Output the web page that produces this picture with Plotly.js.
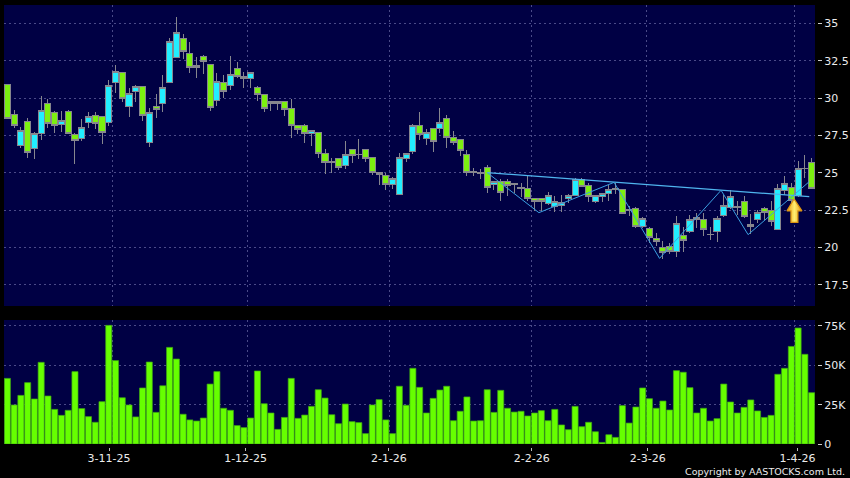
<!DOCTYPE html>
<html><head><meta charset="utf-8">
<script src="https://cdn.plot.ly/plotly-3.0.1.min.js"></script>
<style>html,body{margin:0;padding:0;background:#000}#c{width:850px;height:478px}
.boxes path{shape-rendering:crispEdges}</style>
</head><body><div id="c"></div>
<script>
const tickLabels=['3-11-25','1-12-25','2-1-26','2-2-26','2-3-26','1-4-26'];
const tickPos=[15.05,35.25,56.45,77.6,94.75,116.9];
const gridPos=[15.5,35.5,56.5,77.5,94.5,116.5];
const openP=[30.92,28.88,26.81,28.44,26.63,27.63,29.64,29.04,28.24,29.08,27.57,27.30,28.37,28.84,28.77,28.37,31.05,31.72,29.44,30.45,
30.78,27.03,29.44,29.64,31.05,32.72,34.00,32.99,32.05,32.79,32.25,29.84,31.05,30.85,31.99,31.45,31.29,30.71,30.25,29.64,
29.78,29.75,29.29,28.15,28.15,27.61,27.68,26.27,25.67,25.94,25.45,26.54,26.25,26.54,26.00,24.98,24.84,24.20,23.57,25.94,
26.45,28.15,27.32,27.95,27.95,28.62,27.34,27.21,26.21,25.07,25.00,25.33,24.20,24.38,24.38,24.29,24.04,23.97,23.30,23.30,
22.92,22.72,22.81,23.26,23.48,24.51,24.17,23.06,23.39,23.62,23.93,23.88,22.54,22.61,21.38,21.25,20.60,19.98,20.07,19.73,
20.78,21.07,22.01,21.88,20.89,21.05,22.12,22.68,22.75,23.08,21.50,21.85,22.61,22.46,21.21,23.82,24.00,23.44,25.31,25.69];
const highP=[30.92,29.20,28.04,28.66,27.70,30.11,29.93,29.13,29.15,29.17,27.63,28.59,29.08,29.04,28.82,31.21,32.21,31.72,30.67,30.87,
30.78,29.31,30.27,31.54,34.00,35.40,34.29,33.75,32.75,32.88,32.25,31.67,31.54,32.81,32.39,31.72,31.72,30.78,30.29,29.82,
29.82,29.75,29.91,28.15,28.28,27.81,27.68,26.56,26.00,25.94,27.10,26.54,27.23,26.54,26.00,24.98,25.00,24.73,26.34,26.27,
28.24,29.06,27.90,27.95,29.31,28.86,27.79,27.21,26.50,25.33,25.22,25.49,24.38,24.55,24.55,24.33,24.29,24.78,23.30,23.30,
23.71,23.44,23.50,23.57,24.67,24.67,24.29,23.50,23.66,24.17,24.33,23.88,22.77,22.68,22.01,21.38,20.98,20.45,20.31,22.10,
21.38,22.17,22.28,22.32,21.34,22.10,23.50,23.84,23.10,23.44,22.23,22.50,22.72,23.13,24.22,24.78,24.33,25.80,26.18,25.96];
const lowP=[28.64,28.01,26.65,26.00,25.92,27.21,28.01,27.66,27.75,27.57,25.60,27.14,28.01,27.92,26.94,28.15,30.33,29.75,28.75,29.75,
28.48,26.74,28.68,29.08,31.05,32.66,32.61,31.70,31.36,31.63,29.15,29.49,30.02,30.56,31.36,30.69,30.65,29.82,29.08,29.15,
29.20,28.79,27.30,27.57,26.96,26.79,25.98,24.89,25.00,25.18,25.22,25.63,25.89,25.71,24.84,24.15,23.84,23.88,23.57,25.71,
26.25,27.19,26.85,26.38,27.63,26.65,26.85,26.12,24.78,24.78,24.60,23.62,23.82,23.10,23.44,23.62,23.39,23.10,22.43,22.43,
22.86,22.37,22.39,22.95,23.44,24.02,23.06,23.00,23.06,23.13,23.57,22.28,22.12,21.27,21.27,20.27,20.11,19.24,19.55,19.38,
19.71,20.96,21.27,20.76,20.49,20.38,22.05,22.59,22.17,21.94,20.87,21.61,21.83,21.45,21.21,23.50,22.72,23.39,24.62,23.88];
const closeP=[28.64,28.15,27.83,26.36,27.63,29.17,28.30,28.17,28.48,27.61,27.14,28.04,28.77,28.30,27.68,30.85,31.79,29.98,30.29,30.78,
28.84,29.04,29.22,30.71,33.79,34.40,33.12,32.05,32.19,32.46,29.37,31.12,30.45,31.58,31.43,31.32,31.72,30.25,29.31,29.78,
29.64,29.20,28.15,27.86,27.61,27.81,26.27,25.67,25.78,25.38,26.21,26.14,26.21,25.94,25.00,24.89,24.20,24.62,26.00,26.27,
28.15,27.57,27.68,27.12,28.35,27.34,26.99,26.47,25.04,25.00,24.93,24.00,24.38,23.66,24.15,24.24,23.93,23.30,23.06,23.06,
23.50,23.10,22.99,23.46,24.51,24.06,23.39,23.44,23.62,23.88,23.86,22.28,22.48,21.38,21.94,20.67,20.38,19.64,19.73,21.61,
20.47,21.88,21.88,21.21,20.85,21.96,22.81,23.42,22.68,22.05,21.41,22.34,22.34,21.72,23.91,24.29,23.13,25.29,25.27,23.97];
const volumeK=[41.7,24.8,30.9,39,28.6,51.9,30.5,22,18.2,21.4,46,22.5,17.4,13.8,26.9,75.4,53,29.4,24.8,17.2,
35.6,52.1,20.1,37,61.4,54,18.9,15.3,14.6,16.5,38.1,46,22.7,21.4,11.7,10.4,16.5,46.4,25.6,19.7,
9.3,16.9,41.7,16.3,18.4,23.9,34.5,29.2,18.6,12.9,25.4,14.2,13.6,6.6,24.8,28.2,15.3,6.6,36.7,24.6,
48.1,36,19.7,29,34.3,36.7,14.8,20.8,29.9,14.6,14.8,34.5,20.1,34.1,22.7,20.3,20.8,17.8,19.7,21.2,
14.8,22,12.1,9.1,23.9,11,13.8,7.8,1,5.9,4.2,24.4,13.3,23.5,35.6,28.8,22.7,27.3,21.6,46.6,
45.6,35.8,19.7,22.7,14.6,16.1,38.1,26.7,19.7,23.3,28,21,16.9,18.2,44.3,48.1,62,73.7,57,32.6];
const idx=openP.map((_,i)=>i);
const necklineX=[71,118.65], necklineY=[25,23.39];
const zigzagX=[71,78.65,89.77,96.5,105.6,109.6,118.65], zigzagY=[25,22.32,24.35,19.26,23.82,20.85,24.4];
const arrowX=[116.4,117.57,116.97,116.97,115.94,115.94,115.35,116.4];
const arrowY=[23.24,22.44,22.44,21.67,21.67,22.44,22.44,23.24];
const priceTicks=[17.5,20,22.5,25,27.5,30,32.5,35];
const volTicks=[0,25,50,75], volTickText=['0','25K','50K','75K'];
const copyright='Copyright by AASTOCKS.com Ltd.';

const gridCol='#4a4a88', wick='#86868e';
const txt={family:'"DejaVu Sans",sans-serif',size:11,color:'#ececec'};
const traces=[
 {type:'candlestick',x:idx,open:openP,high:highP,low:lowP,close:closeP,xaxis:'x',yaxis:'y',hoverinfo:'skip',
  increasing:{line:{color:wick,width:1},fillcolor:'#22eeff'},
  decreasing:{line:{color:wick,width:1},fillcolor:'#7cf010'}},
 {type:'bar',x:idx,y:volumeK,xaxis:'x',yaxis:'y2',hoverinfo:'skip',
  marker:{color:'#66ff00',line:{color:'#3fa814',width:0.7}}},
 {type:'scatter',mode:'lines',x:necklineX,y:necklineY,xaxis:'x',yaxis:'y',hoverinfo:'skip',line:{color:'#4fb4ee',width:1.3}},
 {type:'scatter',mode:'lines',x:zigzagX,y:zigzagY,xaxis:'x',yaxis:'y',hoverinfo:'skip',line:{color:'#3b9fe0',width:1}},
 {type:'scatter',mode:'lines',x:arrowX,y:arrowY,fill:'toself',fillcolor:'#ffdc50',
  fillgradient:{type:'horizontal',colorscale:[[0,'#e8980f'],[0.5,'#ffee70'],[1,'#e8980f']]},
  xaxis:'x',yaxis:'y',hoverinfo:'skip',line:{color:'#dc9410',width:1.2}}
];
const W=846;
const layout={
 width:850,height:478,paper_bgcolor:'#000',plot_bgcolor:'#000044',showlegend:false,hovermode:false,
 margin:{l:4,r:0,t:5,b:0,pad:0},boxgap:0.1,boxgroupgap:0,bargap:0.1,dragmode:false,
 xaxis:{domain:[0,811/W],range:[-0.5,119.5],anchor:'free',position:31/473,tickmode:'array',tickvals:tickPos,ticktext:tickLabels,
  ticks:'outside',ticklen:3,tickcolor:'#bbb',tickfont:txt,ticklabelstandoff:-2,showgrid:false,zeroline:false,showline:false,
  rangeslider:{visible:false},
  minor:{tickmode:'array',tickvals:gridPos,showgrid:true,gridcolor:gridCol,griddash:'2px,3px',gridwidth:1,ticks:''}},
 yaxis:{domain:[172/473,1],range:[16.07,36.23],anchor:'free',position:813/W,side:'right',tickmode:'array',tickvals:priceTicks,
  ticktext:priceTicks.map(String),ticks:'outside',ticklen:4,tickcolor:'#ccc',tickfont:txt,
  showgrid:true,gridcolor:gridCol,griddash:'2px,3px',zeroline:false,showline:false},
 yaxis2:{domain:[34/473,158/473],range:[0,78.8],anchor:'free',position:813/W,side:'right',tickmode:'array',tickvals:volTicks,
  ticktext:volTickText,ticks:'outside',ticklen:4,tickcolor:'#ccc',tickfont:txt,
  showgrid:true,gridcolor:gridCol,griddash:'2px,3px',zeroline:false,showline:false},
 annotations:[{text:copyright,xref:'paper',yref:'paper',x:843/W,y:7/473,xanchor:'right',yanchor:'middle',showarrow:false,
  font:{family:'"DejaVu Sans",sans-serif',size:9.5,color:'#ececec'}}]
};
Plotly.newPlot('c',traces,layout,{displayModeBar:false,staticPlot:true});
</script></body></html>
